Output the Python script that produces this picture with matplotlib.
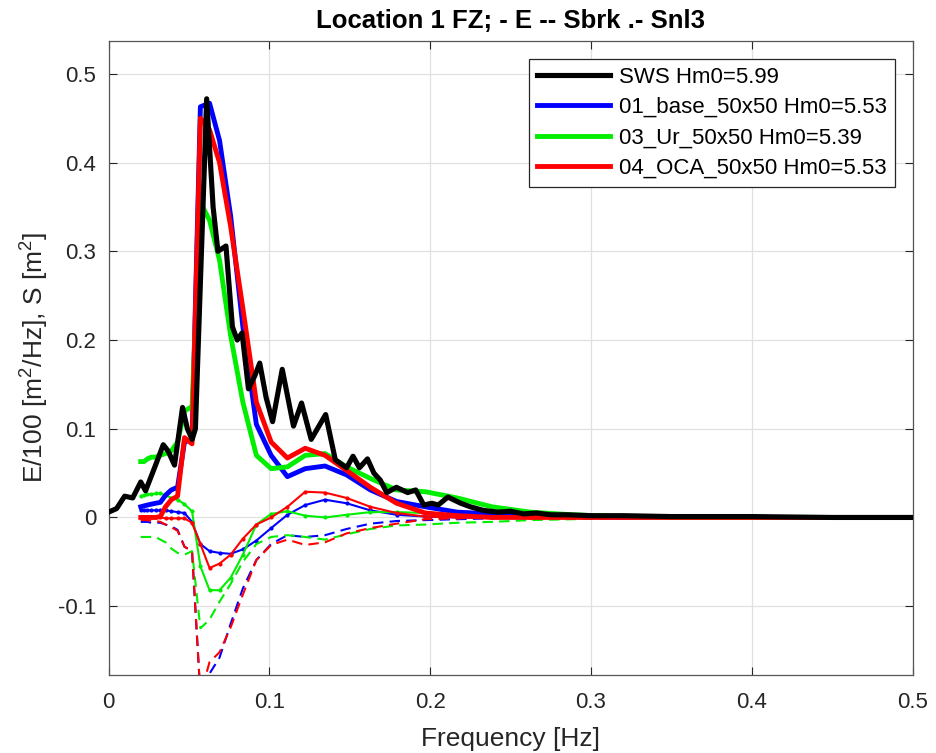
import matplotlib
matplotlib.use("Agg")
import matplotlib.pyplot as plt
from matplotlib.ticker import FixedLocator, FixedFormatter

"""
Spectra at location 1 (FZ): measured SWS spectrum and three model runs.
Thick = energy E/100, dashed = Sbrk, thin with dots = Snl3
"""
# measured spectrum (SWS)
f_sws = [0.000, 0.005, 0.010, 0.015, 0.020, 0.023, 0.029, 0.034, 0.037, 0.041,
         0.046, 0.049, 0.052, 0.054, 0.061, 0.065, 0.068, 0.073, 0.077, 0.080,
         0.083, 0.087, 0.091, 0.094, 0.098, 0.102, 0.108, 0.115, 0.120, 0.126,
         0.135, 0.141, 0.148, 0.152, 0.156, 0.161, 0.165, 0.169, 0.173, 0.179,
         0.186, 0.191, 0.196, 0.201, 0.205, 0.211, 0.219, 0.225, 0.233, 0.242,
         0.250, 0.258, 0.266, 0.275, 0.285, 0.300, 0.320, 0.350, 0.400, 0.450, 0.500]
e_sws = [0.006, 0.010, 0.024, 0.022, 0.040, 0.030, 0.058, 0.082, 0.075, 0.059,
         0.124, 0.100, 0.088, 0.100, 0.472, 0.350, 0.300, 0.306, 0.215, 0.200,
         0.208, 0.145, 0.160, 0.174, 0.135, 0.108, 0.167, 0.103, 0.129, 0.088,
         0.116, 0.065, 0.056, 0.069, 0.056, 0.066, 0.050, 0.042, 0.028, 0.034,
         0.028, 0.031, 0.014, 0.016, 0.014, 0.023, 0.016, 0.012, 0.008, 0.006,
         0.007, 0.004, 0.005, 0.003, 0.003, 0.002, 0.002, 0.001, 0.001, 0.000, 0.000]

# model frequency grid
f_mod = [0.0200, 0.0220, 0.0242, 0.0266, 0.0293, 0.0322, 0.0354, 0.0390, 0.0429,
         0.0472, 0.0519, 0.0571, 0.0628, 0.0690, 0.0759, 0.0835, 0.0919, 0.1011,
         0.1112, 0.1223, 0.1346, 0.1480, 0.1628, 0.1791, 0.1970, 0.2167, 0.2384,
         0.2622, 0.2884, 0.3173, 0.3490, 0.3839, 0.4223, 0.4645, 0.5110]

# 01_base_50x50
e_base = [0.012, 0.013, 0.014, 0.015, 0.016, 0.017, 0.025, 0.031, 0.034,
          0.085, 0.088, 0.463, 0.467, 0.425, 0.340, 0.215, 0.105, 0.070,
          0.046, 0.055, 0.058, 0.048, 0.031, 0.018, 0.012, 0.006, 0.004,
          0.002, 0.001, 0.000, 0.000, 0.000, 0.000, 0.000, 0.000]
sbrk_base = [-0.005, -0.005, -0.005, -0.006, -0.006, -0.006, -0.008, -0.010, -0.014,
             -0.033, -0.038, -0.200, -0.176, -0.158, -0.120, -0.080, -0.048, -0.030,
             -0.020, -0.022, -0.020, -0.013, -0.007, -0.004, -0.003, -0.002, -0.001,
             0.000, 0.000, 0.000, 0.000, 0.000, 0.000, 0.000, 0.000]
snl_base = [0.008, 0.008, 0.008, 0.008, 0.008, 0.008, 0.008, 0.007, 0.006,
            0.005, -0.005, -0.030, -0.038, -0.040, -0.041, -0.036, -0.026, -0.012,
            0.003, 0.014, 0.020, 0.016, 0.008, 0.003, 0.001, 0.000, 0.000,
            0.000, 0.000, 0.000, 0.000, 0.000, 0.000, 0.000, 0.000]

# 03_Ur_50x50
e_ur = [0.063, 0.063, 0.066, 0.068, 0.068, 0.070, 0.072, 0.075, 0.085,
        0.120, 0.125, 0.355, 0.335, 0.290, 0.205, 0.130, 0.070, 0.055,
        0.057, 0.070, 0.072, 0.057, 0.044, 0.031, 0.029, 0.022, 0.012,
        0.006, 0.003, 0.001, 0.000, 0.000, 0.000, 0.000, 0.000]
sbrk_ur = [-0.022, -0.022, -0.022, -0.022, -0.022, -0.025, -0.028, -0.035, -0.040,
           -0.042, -0.038, -0.125, -0.115, -0.095, -0.075, -0.050, -0.030, -0.022,
           -0.020, -0.022, -0.025, -0.019, -0.013, -0.009, -0.008, -0.006, -0.005,
           -0.003, -0.002, -0.001, 0.000, 0.000, 0.000, 0.000, 0.000]
snl_ur = [0.024, 0.025, 0.026, 0.026, 0.027, 0.027, 0.025, 0.022, 0.020,
          0.015, 0.007, -0.055, -0.082, -0.082, -0.068, -0.042, -0.008, 0.004,
          0.007, 0.002, 0.000, 0.003, 0.006, 0.006, 0.005, 0.003, 0.001,
          0.000, 0.000, 0.000, 0.000, 0.000, 0.000, 0.000, 0.000]

# 04_OCA_50x50
e_oca = [0.000, 0.000, 0.000, 0.000, 0.000, 0.001, 0.012, 0.020, 0.024,
         0.090, 0.083, 0.450, 0.437, 0.400, 0.328, 0.236, 0.130, 0.085,
         0.067, 0.078, 0.070, 0.053, 0.034, 0.016, 0.005, 0.002, 0.000,
         0.000, 0.000, 0.000, 0.000, 0.000, 0.000, 0.000, 0.000]
sbrk_oca = [-0.003, -0.003, -0.003, -0.004, -0.004, -0.005, -0.008, -0.011, -0.015,
            -0.033, -0.038, -0.200, -0.163, -0.152, -0.124, -0.087, -0.048, -0.031,
            -0.025, -0.031, -0.028, -0.018, -0.012, -0.007, -0.002, -0.001, 0.000,
            0.000, 0.000, 0.000, 0.000, 0.000, 0.000, 0.000, 0.000]
snl_oca = [0.000, 0.000, 0.000, 0.000, 0.000, 0.000, -0.001, -0.001, -0.001,
           -0.001, -0.006, -0.030, -0.057, -0.052, -0.042, -0.024, -0.008, 0.000,
           0.012, 0.029, 0.028, 0.022, 0.012, 0.005, 0.001, 0.000, 0.000,
           0.000, 0.000, 0.000, 0.000, 0.000, 0.000, 0.000, 0.000]

labels = ["SWS Hm0=5.99", "01_base_50x50 Hm0=5.53",
          "03_Ur_50x50 Hm0=5.39", "04_OCA_50x50 Hm0=5.53"]

"""
Plotting
"""
plt.rcParams['font.family'] = ['Liberation Sans', 'DejaVu Sans']
plt.rcParams['mathtext.default'] = 'regular'
plt.rcParams['axes.unicode_minus'] = False

axcol = '#262626'
fig = plt.figure(figsize=(9.36, 7.53), dpi=100)
ax = fig.add_axes([0.116, 0.1036, 0.859, 0.8424])

models = [(e_base, sbrk_base, snl_base, '#0000ff'),
          (e_ur, sbrk_ur, snl_ur, '#00ee00'),
          (e_oca, sbrk_oca, snl_oca, '#ff0000')]
handles = []
for e, sbrk, snl, c in models:
    h, = ax.plot(f_mod, e, color=c, linewidth=3.5, zorder=3)
    ax.plot(f_mod, sbrk, color=c, linestyle=(0, (5, 3)), linewidth=1.5, zorder=2)
    ax.plot(f_mod, snl, color=c, linestyle='-', marker='.', markersize=4,
            linewidth=1.5, zorder=2)
    handles.append(h)
h_sws, = ax.plot(f_sws, e_sws, color='black', linewidth=3.7, zorder=4)
handles = [h_sws] + handles

ax.set_xlim(0, 0.5)
ax.set_ylim(-0.1776, 0.5375)
ax.xaxis.set_major_locator(FixedLocator([0, 0.1, 0.2, 0.3, 0.4, 0.5]))
ax.xaxis.set_major_formatter(FixedFormatter(['0', '0.1', '0.2', '0.3', '0.4', '0.5']))
ax.yaxis.set_major_locator(FixedLocator([-0.1, 0, 0.1, 0.2, 0.3, 0.4, 0.5]))
ax.yaxis.set_major_formatter(FixedFormatter(['-0.1', '0', '0.1', '0.2', '0.3', '0.4', '0.5']))
ax.tick_params(direction='in', top=True, right=True, length=6, width=0.8,
               colors=axcol, labelsize=16)
ax.tick_params(axis='x', pad=12)
ax.tick_params(axis='y', pad=9)
for s in ax.spines.values():
    s.set_color('#555555')
    s.set_linewidth(0.9)
ax.grid(True, color='#e0e0e0', linewidth=0.9)
ax.set_axisbelow(True)

ax.set_xlabel('Frequency [Hz]', fontsize=19, color=axcol, labelpad=10)
ax.set_ylabel('E/100 [m$^2$/Hz], S [m$^2$]', fontsize=19, color=axcol, labelpad=5)
ax.set_title('Location 1 FZ; - E -- Sbrk .- Snl3', fontsize=18.5, fontweight='bold',
             color='black', pad=9)

leg = ax.legend(handles, labels, loc='upper right', bbox_to_anchor=(0.978, 0.971),
                borderaxespad=0, fontsize=16, handlelength=3.3, fancybox=False,
                framealpha=1, edgecolor='#262626', labelspacing=0.42,
                borderpad=0.35, handletextpad=0.4)
leg.get_frame().set_linewidth(0.9)

plt.savefig('out.png', dpi=100)
